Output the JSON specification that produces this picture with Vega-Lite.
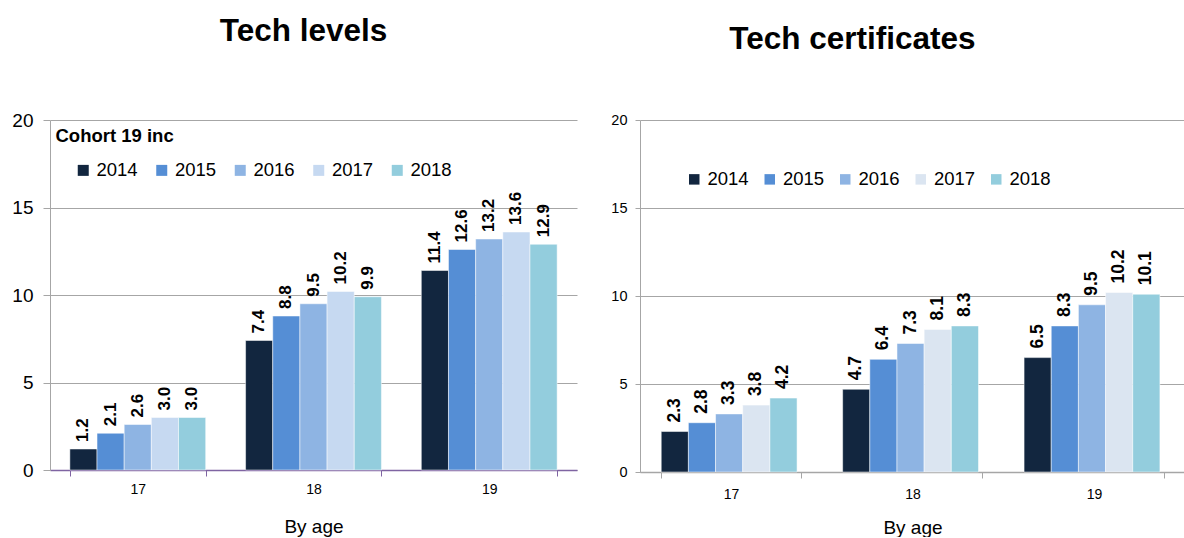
{
  "$schema": "https://vega.github.io/schema/vega-lite/v6.json",
  "padding": {"left": 11, "top": 16, "right": 0, "bottom": 0},
  "background": "white",
  "spacing": 33,
  "config": {
    "font": "Liberation Sans",
    "view": {"stroke": null},
    "axis": {"labelFont": "Liberation Sans", "titleFont": "Liberation Sans", "labelColor": "#000000", "titleColor": "#000000", "titleFontWeight": "normal"}
  },
  "datasets": {
    "levels": [
      {"age": "17", "year": "2014", "value": 1.2},
      {"age": "17", "year": "2015", "value": 2.1},
      {"age": "17", "year": "2016", "value": 2.6},
      {"age": "17", "year": "2017", "value": 3.0},
      {"age": "17", "year": "2018", "value": 3.0},
      {"age": "18", "year": "2014", "value": 7.4},
      {"age": "18", "year": "2015", "value": 8.8},
      {"age": "18", "year": "2016", "value": 9.5},
      {"age": "18", "year": "2017", "value": 10.2},
      {"age": "18", "year": "2018", "value": 9.9},
      {"age": "19", "year": "2014", "value": 11.4},
      {"age": "19", "year": "2015", "value": 12.6},
      {"age": "19", "year": "2016", "value": 13.2},
      {"age": "19", "year": "2017", "value": 13.6},
      {"age": "19", "year": "2018", "value": 12.9}
    ],
    "certs": [
      {"age": "17", "year": "2014", "value": 2.3},
      {"age": "17", "year": "2015", "value": 2.8},
      {"age": "17", "year": "2016", "value": 3.3},
      {"age": "17", "year": "2017", "value": 3.8},
      {"age": "17", "year": "2018", "value": 4.2},
      {"age": "18", "year": "2014", "value": 4.7},
      {"age": "18", "year": "2015", "value": 6.4},
      {"age": "18", "year": "2016", "value": 7.3},
      {"age": "18", "year": "2017", "value": 8.1},
      {"age": "18", "year": "2018", "value": 8.3},
      {"age": "19", "year": "2014", "value": 6.5},
      {"age": "19", "year": "2015", "value": 8.3},
      {"age": "19", "year": "2016", "value": 9.5},
      {"age": "19", "year": "2017", "value": 10.2},
      {"age": "19", "year": "2018", "value": 10.1}
    ]
  },
  "resolve": {"scale": {"color": "independent"}, "legend": {"color": "independent"}},
  "hconcat": [
    {
      "title": {"text": "Tech levels", "font": "Liberation Sans", "fontSize": 31.5, "fontWeight": "bold", "color": "#000000", "anchor": "middle", "frame": "group", "dx": -10, "offset": 63.5},
      "width": 527,
      "height": 350,
      "data": {"name": "levels"},
      "encoding": {
        "x": {
          "field": "age", "type": "nominal", "title": "By age",
          "scale": {"paddingInner": 0.227, "paddingOuter": 0.113},
          "axis": {"labelAngle": 0, "labelFontSize": 14, "titleFontSize": 19, "labelPadding": 6, "titlePadding": 21, "tickBand": "extent", "tickSize": 6, "domainColor": "#7F64A2", "tickColor": "#7F64A2", "domainWidth": 1.5, "grid": false}
        },
        "xOffset": {"field": "year", "type": "nominal", "scale": {"paddingInner": 0, "paddingOuter": 0}},
        "y": {
          "field": "value", "type": "quantitative", "title": "Cohort 19 inc",
          "scale": {"domain": [0, 20]},
          "axis": {"values": [0, 5, 10, 15, 20], "labelFontSize": 19, "labelPadding": 10, "tickSize": 7, "tickColor": "#A6A6A6", "domainColor": "#A6A6A6", "gridColor": "#A6A6A6", "gridOpacity": 1, "grid": true,
                   "titleAngle": 0, "titleX": 5, "titleY": 6, "titleAlign": "left", "titleBaseline": "top", "titleFontSize": 18.5, "titleFontWeight": "bold"}
        }
      },
      "layer": [
        {
          "mark": {"type": "bar", "stroke": "white", "strokeWidth": 0.5},
          "encoding": {
            "color": {
              "field": "year", "type": "nominal",
              "scale": {"domain": ["2014", "2015", "2016", "2017", "2018"], "range": ["#12263F", "#558ED5", "#8EB4E3", "#C6D9F1", "#93CDDD"]},
              "legend": {
                "title": null, "orient": "none", "legendX": 24, "legendY": 41, "direction": "horizontal",
                "symbolType": "square", "symbolSize": 121, "symbolStrokeWidth": 0,
                "labelFontSize": 18.5, "labelFont": "Liberation Sans", "labelColor": "#000000", "labelOffset": 4, "columnPadding": 14.5, "padding": 0
              }
            }
          }
        },
        {
          "mark": {"type": "text", "angle": 270, "align": "left", "baseline": "middle", "dx": 7, "fontWeight": "bold", "fontSize": 17, "font": "Liberation Sans", "color": "#000000"},
          "encoding": {"text": {"field": "value", "type": "quantitative", "format": ".1f"}}
        }
      ]
    },
    {
      "title": {"text": "Tech certificates", "font": "Liberation Sans", "fontSize": 31.5, "fontWeight": "bold", "color": "#000000", "anchor": "middle", "frame": "group", "dx": -60, "offset": 56.5},
      "width": 545,
      "height": 352,
      "data": {"name": "certs"},
      "encoding": {
        "x": {
          "field": "age", "type": "nominal", "title": "By age",
          "scale": {"paddingInner": 0.23, "paddingOuter": 0.117},
          "axis": {"labelAngle": 0, "labelFontSize": 14, "titleFontSize": 19, "labelPadding": 9, "titlePadding": 17, "tickBand": "extent", "tickSize": 6, "domainColor": "#A6A6A6", "tickColor": "#A6A6A6", "domainWidth": 1.5, "grid": false}
        },
        "xOffset": {"field": "year", "type": "nominal", "scale": {"paddingInner": 0, "paddingOuter": 0}},
        "y": {
          "field": "value", "type": "quantitative", "title": null,
          "scale": {"domain": [0, 20]},
          "axis": {"values": [0, 5, 10, 15, 20], "labelFontSize": 14.5, "labelPadding": 8, "tickSize": 5, "tickColor": "#A6A6A6", "domainColor": "#A6A6A6", "gridColor": "#A6A6A6", "gridOpacity": 1, "grid": true}
        }
      },
      "layer": [
        {
          "mark": {"type": "bar", "stroke": "white", "strokeWidth": 0.5},
          "encoding": {
            "color": {
              "field": "year", "type": "nominal",
              "scale": {"domain": ["2014", "2015", "2016", "2017", "2018"], "range": ["#12263F", "#558ED5", "#8EB4E3", "#DBE5F1", "#93CDDD"]},
              "legend": {
                "title": null, "orient": "none", "legendX": 45, "legendY": 50, "direction": "horizontal",
                "symbolType": "square", "symbolSize": 110, "symbolStrokeWidth": 0,
                "labelFontSize": 18.5, "labelFont": "Liberation Sans", "labelColor": "#000000", "labelOffset": 4, "columnPadding": 11.5, "padding": 0
              }
            }
          }
        },
        {
          "mark": {"type": "text", "angle": 270, "align": "left", "baseline": "middle", "dx": 9, "fontWeight": "bold", "fontSize": 17.5, "font": "Liberation Sans", "color": "#000000"},
          "encoding": {"text": {"field": "value", "type": "quantitative", "format": ".1f"}}
        }
      ]
    }
  ]
}
